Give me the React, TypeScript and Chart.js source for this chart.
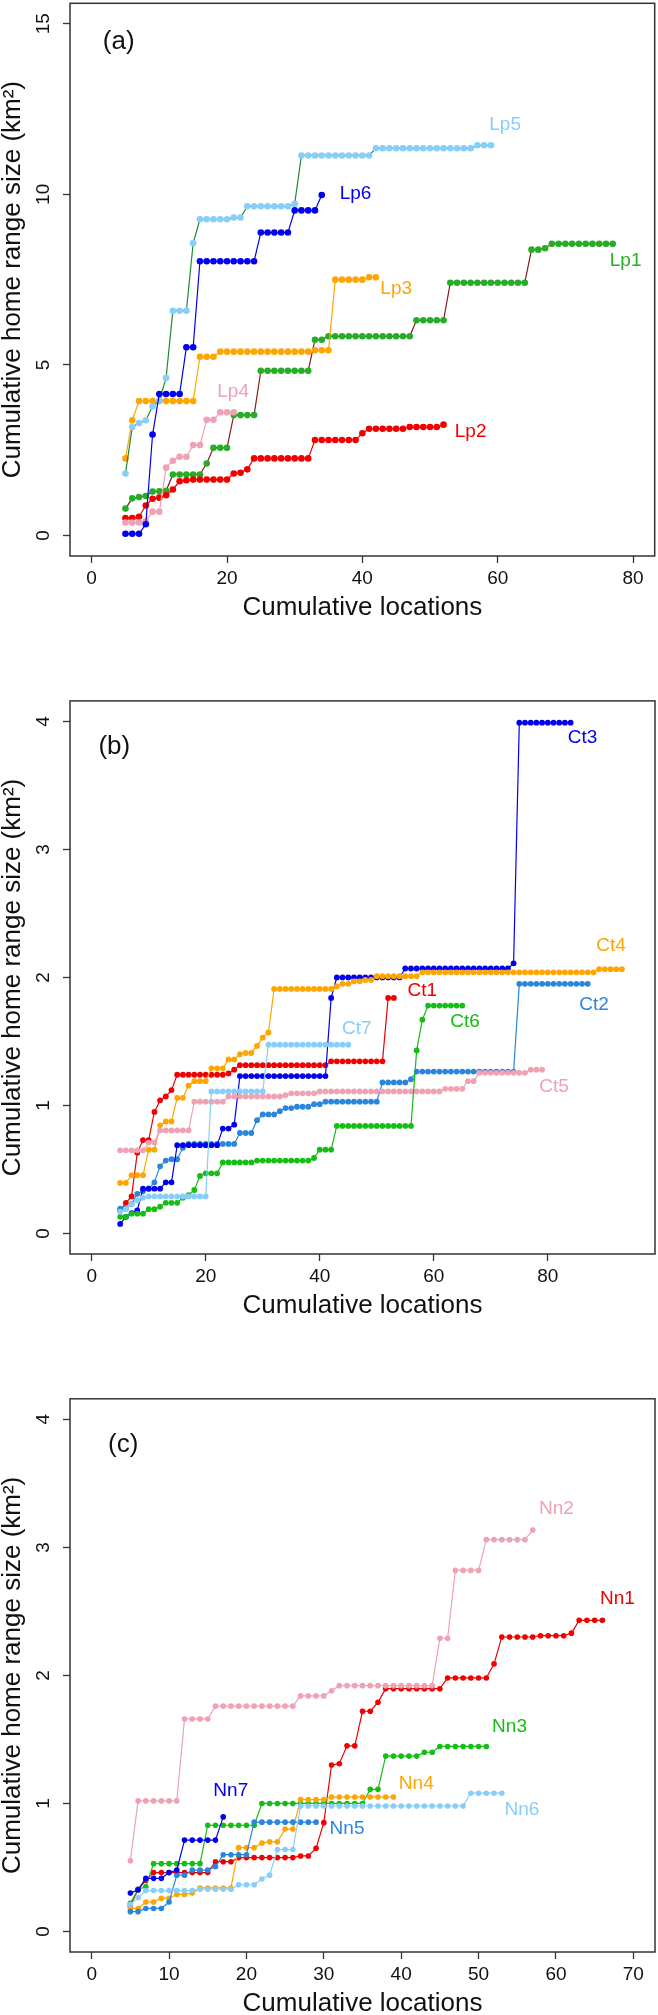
import React, { useEffect, useRef } from 'react';
import { Chart, registerables } from 'chart.js';

Chart.register(...registerables);

const FONT = '"Liberation Sans", Arial, Helvetica, sans-serif';

// cumulative locations start at 5 for every animal
const startX = 5;

// ---------- Panel (a) ----------
const lp1Values = [
  0.79, 1.09, 1.13, 1.16, 1.29, 1.3, 1.31,
  1.79, 1.79, 1.79, 1.79, 1.79,
  2.11,
  2.57, 2.57, 2.57,
  3.53, 3.53, 3.53, 3.53,
  4.83, 4.83, 4.83, 4.83, 4.83, 4.83, 4.83, 4.83,
  5.74, 5.74,
  5.84, 5.84, 5.84, 5.84, 5.84, 5.84, 5.84, 5.84, 5.84, 5.84, 5.84, 5.84, 5.84,
  6.31, 6.31, 6.31, 6.31, 6.31,
  7.41, 7.41, 7.41, 7.41, 7.41, 7.41, 7.41, 7.41, 7.41, 7.41, 7.41, 7.41,
  8.38, 8.38, 8.42,
  8.55, 8.55, 8.55, 8.55, 8.55, 8.55, 8.55, 8.55, 8.55, 8.55,
];
const lp2Values = [
  0.51, 0.51, 0.55, 0.88, 1.08, 1.11, 1.18, 1.35, 1.59, 1.62,
  1.64, 1.64, 1.64, 1.64, 1.64, 1.64,
  1.82, 1.84, 1.94,
  2.26, 2.26, 2.26, 2.26, 2.26, 2.26, 2.26, 2.26, 2.26,
  2.8, 2.8, 2.8, 2.8, 2.8, 2.8, 2.8,
  3.0,
  3.13, 3.13, 3.13, 3.13, 3.13, 3.13,
  3.18, 3.18, 3.18, 3.18, 3.18,
  3.25,
];
const lp3Values = [
  2.26, 3.38,
  3.94, 3.94, 3.94, 3.94, 3.94, 3.94, 3.94, 3.94, 3.94,
  5.24, 5.24, 5.24,
  5.39, 5.39, 5.39, 5.39, 5.39, 5.39, 5.39, 5.39, 5.39, 5.39, 5.39, 5.39, 5.39, 5.39,
  5.43, 5.43, 5.43,
  7.5, 7.5, 7.5, 7.5, 7.5,
  7.57, 7.57,
];
const lp4Values = [
  0.38, 0.38, 0.38, 0.42, 0.7, 0.7, 1.99, 2.19, 2.31, 2.31, 2.65, 2.65, 3.39, 3.39, 3.61, 3.61, 3.61,
];
const lp5Values = [
  1.82, 3.18, 3.3, 3.38, 3.78, 3.96, 4.62,
  6.59, 6.59, 6.59,
  8.57,
  9.27, 9.27, 9.27, 9.27, 9.27,
  9.32, 9.32,
  9.65, 9.65, 9.65, 9.65, 9.65, 9.65, 9.65,
  9.72,
  11.14, 11.14, 11.14, 11.14, 11.14, 11.14, 11.14, 11.14, 11.14, 11.14, 11.14,
  11.35, 11.35, 11.35, 11.35, 11.35, 11.35, 11.35, 11.35, 11.35, 11.35, 11.35, 11.35, 11.35, 11.35, 11.35,
  11.44, 11.44, 11.44,
];
const lp6Values = [
  0.05, 0.05, 0.05, 0.33, 2.96,
  4.15, 4.15, 4.15, 4.15,
  5.52, 5.52,
  8.04, 8.04, 8.04, 8.04, 8.04, 8.04, 8.04, 8.04, 8.04,
  8.88, 8.88, 8.88, 8.88, 8.88,
  9.53, 9.53, 9.53, 9.53,
  9.98,
];

// ---------- Panel (b) ----------
const ct1Values = [
  0.18, 0.24, 0.29, 0.63, 0.73, 0.73, 0.95, 1.04, 1.07, 1.12,
  1.24, 1.24, 1.24, 1.24, 1.24, 1.24, 1.24, 1.24, 1.24,
  1.25, 1.28,
  1.315, 1.315, 1.315, 1.315, 1.315, 1.315, 1.315, 1.315, 1.315, 1.315, 1.315, 1.315, 1.315, 1.315, 1.315, 1.315,
  1.345, 1.345, 1.345, 1.345, 1.345, 1.345, 1.345, 1.345, 1.345, 1.345,
  1.84, 1.84,
];
const ct2Values = [
  0.195, 0.195, 0.23, 0.31, 0.33, 0.35, 0.4, 0.525, 0.57, 0.58, 0.58, 0.67,
  0.7, 0.7, 0.7, 0.7, 0.7, 0.7, 0.7, 0.7, 0.7,
  0.785, 0.785, 0.785,
  0.885,
  0.93, 0.93, 0.93,
  0.955,
  0.98, 0.98,
  0.99, 0.99, 0.99,
  1.01, 1.01,
  1.03, 1.03, 1.03, 1.03, 1.03, 1.03, 1.03, 1.03, 1.03, 1.03,
  1.18, 1.18, 1.18, 1.18, 1.18,
  1.205,
  1.265, 1.265, 1.265, 1.265, 1.265, 1.265, 1.265, 1.265, 1.265, 1.265, 1.265, 1.265, 1.265, 1.265, 1.265, 1.265, 1.265, 1.265,
  1.95, 1.95, 1.95, 1.95, 1.95, 1.95, 1.95, 1.95, 1.95, 1.95, 1.95, 1.95, 1.95,
];
const ct3Values = [
  0.075, 0.13, 0.16, 0.18,
  0.35, 0.35, 0.35, 0.35,
  0.4, 0.4,
  0.69, 0.69, 0.69, 0.69, 0.69, 0.69, 0.69, 0.69,
  0.82, 0.82,
  0.85,
  1.23, 1.23, 1.23, 1.23, 1.23, 1.23, 1.23, 1.23, 1.23, 1.23, 1.23, 1.23, 1.23, 1.23, 1.23, 1.23,
  1.84,
  2.0, 2.0, 2.0, 2.0, 2.0, 2.0, 2.0, 2.0, 2.0, 2.0, 2.0, 2.0,
  2.07, 2.07, 2.07, 2.07, 2.07, 2.07, 2.07, 2.07, 2.07, 2.07, 2.07, 2.07, 2.07, 2.07, 2.07, 2.07, 2.07, 2.07, 2.07,
  2.11,
  3.99, 3.99, 3.99, 3.99, 3.99, 3.99, 3.99, 3.99, 3.99, 3.99,
];
const ct4Values = [
  0.395, 0.395, 0.455, 0.455, 0.455, 0.655, 0.655, 0.845, 0.875, 0.875,
  1.06, 1.06, 1.155, 1.19, 1.19, 1.19, 1.29, 1.29, 1.29, 1.36,
  1.36, 1.4, 1.41, 1.41, 1.465, 1.53, 1.57,
  1.91, 1.91, 1.91, 1.91, 1.91, 1.91, 1.91, 1.91, 1.91, 1.91, 1.91,
  1.93, 1.95, 1.95, 1.97, 1.97, 1.98, 1.98,
  2.01, 2.01, 2.01, 2.01, 2.01, 2.01, 2.01, 2.01,
  2.04, 2.04, 2.04, 2.04, 2.04, 2.04, 2.04, 2.04, 2.04, 2.04,
  2.04, 2.04, 2.04, 2.04, 2.04, 2.04, 2.04, 2.04, 2.04, 2.04,
  2.04, 2.04, 2.04, 2.04, 2.04, 2.04, 2.04, 2.04, 2.04, 2.04, 2.04,
  2.065, 2.065, 2.065, 2.065, 2.065,
];
const ct5Values = [
  0.65, 0.65, 0.65, 0.65, 0.65,
  0.71, 0.71,
  0.805, 0.805, 0.805, 0.805, 0.805, 0.805,
  1.03, 1.03, 1.03, 1.03, 1.03, 1.03,
  1.07, 1.07, 1.07, 1.07, 1.07, 1.07, 1.07, 1.07, 1.07, 1.07,
  1.08,
  1.095, 1.095, 1.095, 1.095, 1.095,
  1.11, 1.11, 1.11, 1.11, 1.11, 1.11, 1.11, 1.11, 1.11, 1.11, 1.11,
  1.11, 1.11, 1.11, 1.11, 1.11, 1.11, 1.11, 1.11, 1.11, 1.11, 1.11,
  1.13, 1.13, 1.13, 1.13,
  1.19, 1.19,
  1.255, 1.255, 1.255, 1.255, 1.255, 1.255, 1.255, 1.255, 1.255,
  1.28, 1.28, 1.28,
];
const ct6Values = [
  0.13, 0.13, 0.155, 0.155, 0.155, 0.19, 0.19, 0.21, 0.24, 0.24, 0.24, 0.28, 0.3, 0.34, 0.45, 0.47, 0.47, 0.47,
  0.555, 0.555, 0.555, 0.555, 0.555, 0.555,
  0.57, 0.57, 0.57, 0.57, 0.57, 0.57, 0.57, 0.57, 0.57, 0.57,
  0.59,
  0.655, 0.655, 0.655,
  0.84, 0.84, 0.84, 0.84, 0.84, 0.84, 0.84, 0.84, 0.84, 0.84, 0.84, 0.84, 0.84, 0.84,
  1.43, 1.67,
  1.78, 1.78, 1.78, 1.78, 1.78, 1.78, 1.78,
];
const ct7Values = [
  0.17, 0.19, 0.23, 0.26, 0.28,
  0.29, 0.29, 0.29, 0.29, 0.29, 0.29, 0.29, 0.29, 0.29, 0.29, 0.29,
  1.11, 1.11, 1.11, 1.11, 1.11, 1.11, 1.11, 1.11, 1.11, 1.11,
  1.475, 1.475, 1.475, 1.475, 1.475, 1.475, 1.475, 1.475, 1.475, 1.475, 1.475, 1.475, 1.475, 1.475, 1.475,
];

// ---------- Panel (c) ----------
const nn1Values = [
  0.2, 0.33, 0.4,
  0.46, 0.46, 0.46, 0.46, 0.46, 0.46, 0.46, 0.46,
  0.545, 0.545, 0.545,
  0.577, 0.577, 0.577, 0.577, 0.577, 0.577, 0.577, 0.577,
  0.59, 0.59,
  0.65, 0.85, 1.3, 1.31,
  1.45, 1.45,
  1.72, 1.72,
  1.79,
  1.896, 1.896, 1.896, 1.896, 1.896, 1.896, 1.896, 1.896,
  1.98, 1.98, 1.98, 1.98, 1.98, 1.98,
  2.09,
  2.3, 2.3, 2.3, 2.3, 2.3,
  2.31, 2.31, 2.31, 2.31,
  2.33,
  2.43, 2.43, 2.43, 2.43,
];
const nn2Values = [
  0.553,
  1.02, 1.02, 1.02, 1.02, 1.02, 1.02,
  1.66, 1.66, 1.66, 1.66,
  1.76, 1.76, 1.76, 1.76, 1.76, 1.76, 1.76, 1.76, 1.76, 1.76, 1.76,
  1.84, 1.84, 1.84, 1.84,
  1.88,
  1.92, 1.92, 1.92, 1.92, 1.92, 1.92, 1.92, 1.92, 1.92, 1.92, 1.92, 1.92, 1.92,
  2.29, 2.29,
  2.82, 2.82, 2.82, 2.82,
  3.06, 3.06, 3.06, 3.06, 3.06, 3.06,
  3.135,
];
const nn3Values = [
  0.22, 0.33, 0.35,
  0.53, 0.53, 0.53, 0.53, 0.53, 0.53, 0.53,
  0.83, 0.83, 0.83, 0.83, 0.83, 0.83, 0.83,
  1.0, 1.0, 1.0, 1.0, 1.0, 1.0, 1.0, 1.0, 1.0, 1.0, 1.0, 1.0, 1.0, 1.0,
  1.11, 1.11,
  1.37, 1.37, 1.37, 1.37, 1.37,
  1.4, 1.4,
  1.445, 1.445, 1.445, 1.445, 1.445, 1.445, 1.445,
];
const nn4Values = [
  0.18, 0.18, 0.23, 0.23, 0.26, 0.26, 0.29, 0.29, 0.3,
  0.34, 0.34, 0.34, 0.34, 0.34,
  0.655, 0.655, 0.655,
  0.69, 0.7, 0.7,
  0.8, 0.8,
  1.03, 1.03, 1.03, 1.03,
  1.05, 1.05, 1.05, 1.05, 1.05, 1.05, 1.05, 1.05, 1.05,
];
const nn5Values = [
  0.155, 0.155, 0.18, 0.18, 0.18, 0.23, 0.44, 0.44, 0.48, 0.48, 0.48, 0.506,
  0.6, 0.6, 0.6, 0.6,
  0.854, 0.854, 0.854, 0.854, 0.854, 0.854, 0.854, 0.854, 0.854,
];
const nn6Values = [
  0.21, 0.265,
  0.32, 0.32, 0.32, 0.32, 0.32, 0.32, 0.32,
  0.33, 0.33, 0.33, 0.33, 0.33,
  0.365, 0.365, 0.365,
  0.41, 0.44,
  0.64, 0.64, 0.64,
  0.98, 0.98, 0.98, 0.98, 0.98, 0.98, 0.98, 0.98, 0.98, 0.98, 0.98,
  0.98, 0.98, 0.98, 0.98, 0.98, 0.98, 0.98, 0.98, 0.98, 0.98, 0.98,
  1.08, 1.08, 1.08, 1.08, 1.08,
];
const nn7Values = [
  0.3, 0.325, 0.415, 0.415, 0.415, 0.46, 0.48,
  0.714, 0.714, 0.714, 0.714, 0.714,
  0.895,
];

// ---------- axis ticks ----------
const xTicksA = [0, 20, 40, 60, 80];
const yTicksA = [0, 5, 10, 15];
const xTicksB = [0, 20, 40, 60, 80];
const yTicksB = [0, 1, 2, 3, 4];
const xTicksC = [0, 10, 20, 30, 40, 50, 60, 70];
const yTicksC = [0, 1, 2, 3, 4];

const X_TITLE = 'Cumulative locations';
const Y_TITLE = 'Cumulative home range size (km²)';

// ---------- colours ----------
const RED = '#F00000';
const ORANGE = '#FFA500';
const PINK = '#EEA2B4';
const LIGHTBLUE = '#87CEFA';
const BLUE = '#0000EE';
const DODGER = '#2A86DC';
const GREEN = '#14BE14';
const GREEN_A = '#25AE25';
const BROWN = '#8B1A1A';
const DARKGREEN = '#1E8A2E';

type Series = { name: string; values: number[]; point: string; line: string };
type Label = { text: string; x: number; y: number; color: string; size: number };

type PanelCfg = {
  height: number;
  xMin: number; xMax: number; yMin: number; yMax: number;
  xTicks: number[]; yTicks: number[];
  series: Series[];
  labels: Label[];
  radius: number;
  yTickPad: number;
};

const panelA: PanelCfg = {
  height: 698,
  xMin: -3.2, xMax: 83.2, yMin: -0.6, yMax: 15.6,
  xTicks: xTicksA, yTicks: yTicksA,
  radius: 3.3,
  yTickPad: 8.4,
  series: [
    { name: 'Lp1', values: lp1Values, point: GREEN_A, line: BROWN },
    { name: 'Lp2', values: lp2Values, point: RED, line: RED },
    { name: 'Lp3', values: lp3Values, point: ORANGE, line: ORANGE },
    { name: 'Lp4', values: lp4Values, point: PINK, line: PINK },
    { name: 'Lp5', values: lp5Values, point: LIGHTBLUE, line: DARKGREEN },
    { name: 'Lp6', values: lp6Values, point: BLUE, line: BLUE },
  ],
  labels: [
    { text: '(a)', x: 4.0, y: 14.46, color: '#111', size: 26 },
    { text: 'Lp5', x: 61.1, y: 12.05, color: LIGHTBLUE, size: 19 },
    { text: 'Lp6', x: 39.0, y: 10.03, color: BLUE, size: 19 },
    { text: 'Lp3', x: 45.0, y: 7.23, color: ORANGE, size: 19 },
    { text: 'Lp1', x: 78.9, y: 8.04, color: GREEN_A, size: 19 },
    { text: 'Lp4', x: 20.9, y: 4.22, color: PINK, size: 19 },
    { text: 'Lp2', x: 56.0, y: 3.05, color: RED, size: 19 },
  ],
};

const panelB: PanelCfg = {
  height: 698,
  xMin: -3.8, xMax: 98.8, yMin: -0.16, yMax: 4.16,
  xTicks: xTicksB, yTicks: yTicksB,
  radius: 2.9,
  yTickPad: 13.7,
  series: [
    { name: 'Ct1', values: ct1Values, point: RED, line: RED },
    { name: 'Ct2', values: ct2Values, point: DODGER, line: DODGER },
    { name: 'Ct3', values: ct3Values, point: BLUE, line: BLUE },
    { name: 'Ct4', values: ct4Values, point: ORANGE, line: ORANGE },
    { name: 'Ct5', values: ct5Values, point: PINK, line: PINK },
    { name: 'Ct6', values: ct6Values, point: GREEN, line: GREEN },
    { name: 'Ct7', values: ct7Values, point: LIGHTBLUE, line: LIGHTBLUE },
  ],
  labels: [
    { text: '(b)', x: 3.97, y: 3.8, color: '#111', size: 26 },
    { text: 'Ct3', x: 86.1, y: 3.87, color: BLUE, size: 19 },
    { text: 'Ct4', x: 91.1, y: 2.25, color: ORANGE, size: 19 },
    { text: 'Ct1', x: 58.0, y: 1.895, color: RED, size: 19 },
    { text: 'Ct2', x: 88.1, y: 1.79, color: DODGER, size: 19 },
    { text: 'Ct6', x: 65.5, y: 1.65, color: GREEN, size: 19 },
    { text: 'Ct7', x: 46.5, y: 1.6, color: LIGHTBLUE, size: 19 },
    { text: 'Ct5', x: 81.1, y: 1.15, color: PINK, size: 19 },
  ],
};

const panelC: PanelCfg = {
  height: 619,
  xMin: -2.8, xMax: 72.8, yMin: -0.16, yMax: 4.16,
  xTicks: xTicksC, yTicks: yTicksC,
  radius: 2.8,
  yTickPad: 13.7,
  series: [
    { name: 'Nn1', values: nn1Values, point: RED, line: RED },
    { name: 'Nn2', values: nn2Values, point: PINK, line: PINK },
    { name: 'Nn3', values: nn3Values, point: GREEN, line: GREEN },
    { name: 'Nn4', values: nn4Values, point: ORANGE, line: ORANGE },
    { name: 'Nn5', values: nn5Values, point: DODGER, line: DODGER },
    { name: 'Nn6', values: nn6Values, point: LIGHTBLUE, line: LIGHTBLUE },
    { name: 'Nn7', values: nn7Values, point: BLUE, line: BLUE },
  ],
  labels: [
    { text: '(c)', x: 4.07, y: 3.8, color: '#111', size: 26 },
    { text: 'Nn2', x: 60.05, y: 3.3, color: PINK, size: 19 },
    { text: 'Nn1', x: 67.95, y: 2.6, color: RED, size: 19 },
    { text: 'Nn3', x: 54.0, y: 1.6, color: GREEN, size: 19 },
    { text: 'Nn4', x: 41.95, y: 1.156, color: ORANGE, size: 19 },
    { text: 'Nn7', x: 17.98, y: 1.097, color: BLUE, size: 19 },
    { text: 'Nn6', x: 55.6, y: 0.95, color: LIGHTBLUE, size: 19 },
    { text: 'Nn5', x: 33.0, y: 0.8, color: DODGER, size: 19 },
  ],
};

const PLOT_LEFT = 70;
const PLOT_TOP = 2;
const PLOT_BOTTOM = 556;
const RIGHT_PAD = 3;
const WIDTH = 658;

function Panel({ cfg }: { cfg: PanelCfg }) {
  const ref = useRef<HTMLCanvasElement | null>(null);

  useEffect(() => {
    const canvas = ref.current;
    if (!canvas) return;
    const H = cfg.height;
    const n = cfg.series.length;

    const datasets = cfg.series.map((s, i) => ({
      label: s.name,
      data: s.values.map((v, k) => ({ x: startX + k, y: v })),
      borderColor: s.line,
      backgroundColor: s.point,
      borderWidth: 1.2,
      pointRadius: cfg.radius,
      pointHoverRadius: cfg.radius,
      pointBackgroundColor: s.point,
      pointBorderColor: s.point,
      pointBorderWidth: 0,
      tension: 0,
      fill: false,
      order: n - i,
    }));

    const overlay = {
      id: 'overlay',
      afterDraw(chart: any) {
        const { ctx, chartArea, scales } = chart;
        const xs = scales.x;
        const ys = scales.y;
        ctx.save();
        ctx.strokeStyle = '#333';
        ctx.lineWidth = 1.5;
        ctx.strokeRect(chartArea.left, chartArea.top, chartArea.right - chartArea.left, chartArea.bottom - chartArea.top);
        ctx.textAlign = 'center';
        ctx.textBaseline = 'middle';
        for (const l of cfg.labels) {
          ctx.fillStyle = l.color;
          ctx.font = `${l.size}px ${FONT}`;
          ctx.fillText(l.text, xs.getPixelForValue(l.x), ys.getPixelForValue(l.y));
        }
        ctx.restore();
      },
    };

    const gridOpts = {
      display: true,
      drawOnChartArea: false,
      drawTicks: true,
      tickLength: 7,
      tickColor: '#333',
      tickWidth: 1.3,
    };

    const chart = new Chart(canvas, {
      type: 'line',
      data: { datasets },
      plugins: [overlay],
      options: {
        responsive: false,
        animation: false,
        devicePixelRatio: 1,
        layout: { padding: { top: PLOT_TOP, right: RIGHT_PAD, left: 0, bottom: 0 } },
        plugins: { legend: { display: false }, tooltip: { enabled: false } },
        events: [],
        scales: {
          x: {
            type: 'linear',
            position: 'bottom',
            min: cfg.xMin,
            max: cfg.xMax,
            afterBuildTicks: (s: any) => {
              s.ticks = cfg.xTicks.map((v) => ({ value: v }));
            },
            afterFit: (s: any) => {
              s.height = H - PLOT_BOTTOM;
              s.paddingLeft = 0;
              s.paddingRight = 0;
            },
            grid: gridOpts,
            border: { display: false },
            ticks: {
              autoSkip: false,
              maxRotation: 0,
              minRotation: 0,
              padding: 4,
              color: '#111',
              font: { family: FONT, size: 19 },
            },
            title: {
              display: true,
              text: X_TITLE,
              color: '#111',
              font: { family: FONT, size: 26, lineHeight: 1 },
              padding: { top: 0, bottom: H - 621 },
            },
          },
          y: {
            type: 'linear',
            position: 'left',
            min: cfg.yMin,
            max: cfg.yMax,
            afterBuildTicks: (s: any) => {
              s.ticks = cfg.yTicks.map((v) => ({ value: v }));
            },
            afterFit: (s: any) => {
              s.width = PLOT_LEFT;
              s.paddingTop = 0;
              s.paddingBottom = 0;
            },
            grid: gridOpts,
            border: { display: false },
            ticks: {
              autoSkip: false,
              minRotation: 90,
              maxRotation: 90,
              crossAlign: 'center',
              padding: cfg.yTickPad,
              color: '#111',
              font: { family: FONT, size: 19 },
            },
            title: {
              display: true,
              text: Y_TITLE,
              color: '#111',
              font: { family: FONT, size: 26, lineHeight: 1 },
              padding: { top: 0, bottom: 0 },
            },
          },
        },
      } as any,
    });

    return () => chart.destroy();
  }, [cfg]);

  return (
    <div style={{ width: WIDTH, height: cfg.height, position: 'relative' }}>
      <canvas ref={ref} width={WIDTH} height={cfg.height} style={{ display: 'block', width: WIDTH, height: cfg.height }} />
    </div>
  );
}

export default function App() {
  useEffect(() => {
    document.body.style.margin = '0';
    document.body.style.overflow = 'hidden';
    document.body.style.background = '#ffffff';
  }, []);
  return (
    <div style={{ width: WIDTH, background: '#ffffff' }}>
      <Panel cfg={panelA} />
      <Panel cfg={panelB} />
      <Panel cfg={panelC} />
    </div>
  );
}
